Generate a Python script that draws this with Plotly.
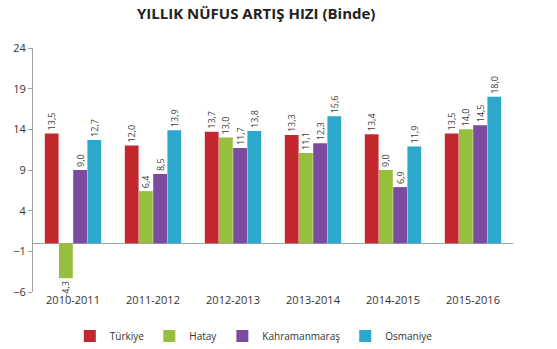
import plotly.graph_objects as go

categories = ["2010-2011", "2011-2012", "2012-2013", "2013-2014", "2014-2015", "2015-2016"]
turkiye = [13.5, 12.0, 13.7, 13.3, 13.4, 13.5]
hatay = [-4.3, 6.4, 13.0, 11.1, 9.0, 14.0]
kahramanmaras = [9.0, 8.5, 11.7, 12.3, 6.9, 14.5]
osmaniye = [12.7, 13.9, 13.8, 15.6, 11.9, 18.0]
tick_vals = [-6, -1, 4, 9, 14, 19, 24]

series = [
    ("Türkiye", turkiye, "#C3282E"),
    ("Hatay", hatay, "#97BE3C"),
    ("Kahramanmaraş", kahramanmaras, "#7A4B9E"),
    ("Osmaniye", osmaniye, "#2BA8CB"),
]

def fmt(v):
    return f"{v:.1f}".replace(".", ",")

fig = go.Figure()
for name, vals, color in series:
    fig.add_trace(go.Bar(
        x=categories, y=vals, name=name,
        marker=dict(color=color, line=dict(width=0)),
        text=[fmt(v) for v in vals], textposition="outside",
        textangle=-90, textfont=dict(size=9, color="#404040", family="Open Sans"),
        cliponaxis=False,
    ))

fig.update_layout(
    width=557, height=349,
    margin=dict(l=33, r=44, t=48, b=57, autoexpand=False),
    paper_bgcolor="white", plot_bgcolor="white",
    barmode="group", bargap=0.29, bargroupgap=0.03,
    font=dict(family="Open Sans", color="#333333"),
    title=dict(text="<b>YILLIK NÜFUS ARTIŞ HIZI (Binde)</b>", x=0.46, xanchor="center",
               y=0.96, yanchor="middle", font=dict(size=15, color="#222222", family="Open Sans")),
    showlegend=True,
    legend=dict(orientation="h", x=0.46, xanchor="center", y=-0.18, yanchor="middle",
                font=dict(size=10, color="#333333"), traceorder="normal",
                tracegroupgap=0, itemwidth=30),
    uniformtext=dict(mode="show", minsize=9),
)
fig.update_yaxes(range=[-6, 24], tickvals=tick_vals, showgrid=False,
                 showline=True, linecolor="#A0A0A0", ticks="outside", ticklen=4,
                 tickcolor="#A0A0A0", tickfont=dict(size=11, color="#333333"),
                 zeroline=True, zerolinecolor="#A0A0A0", zerolinewidth=1)
fig.update_xaxes(showgrid=False, showline=False, ticks="", tickfont=dict(size=11, color="#333333"))

fig.write_html("out.html")
